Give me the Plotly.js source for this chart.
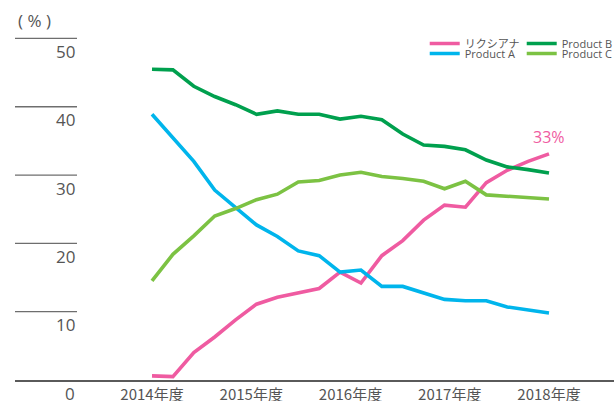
<!DOCTYPE html>
<html>
<head>
<meta charset="utf-8">
<script src="https://cdn.plot.ly/plotly-3.0.1.min.js"></script>
<style>html,body{margin:0;padding:0;background:#fff;}#chart{width:614px;height:401px;}</style>
</head>
<body>
<div id="chart"></div>
<script>
// quarterly points, 2014年度 Q1 .. 2018年度 Q4
var quarters = [0,1,2,3,4,5,6,7,8,9,10,11,12,13,14,15,16,17,18,19];
var lixiana  = [0.6, 0.5, 4.0, 6.3, 8.8, 11.1, 12.1, 12.7, 13.4, 15.8, 14.2, 18.2, 20.4, 23.4, 25.6, 25.3, 28.9, 30.7, 32.0, 33.1];
var productA = [38.9, 35.5, 32.0, 27.8, 25.3, 22.7, 21.0, 18.9, 18.2, 15.8, 16.1, 13.7, 13.7, 12.8, 11.8, 11.6, 11.6, 10.7, 10.3, 9.8];
var productB = [45.5, 45.4, 43.0, 41.5, 40.3, 38.9, 39.4, 38.9, 38.9, 38.2, 38.6, 38.1, 36.0, 34.4, 34.2, 33.7, 32.2, 31.2, 30.8, 30.3];
var productC = [14.5, 18.4, 21.1, 24.0, 25.1, 26.4, 27.2, 29.0, 29.2, 30.0, 30.4, 29.8, 29.5, 29.1, 28.0, 29.1, 27.1, 26.9, 26.6, 26.5];
var seriesNames = ['リクシアナ', 'Product B', 'Product A', 'Product C'];
var xTickVals = [0, 4.75, 9.5, 14.25, 19];
var xTickText = ['2014年度', '2015年度', '2016年度', '2017年度', '2018年度'];
var yTicks = [10, 20, 30, 40, 50];
var yTickLabels = ['0', '10', '20', '30', '40', '50'];
var yLabelVals = [0, 10, 20, 30, 40, 50];
var endLabel = '33%';

var colors = {pink: '#ef5ba1', blue: '#00b5ec', dgreen: '#00a04e', lgreen: '#7cc243'};
var lw = 3.6;
var font = "'Open Sans', 'Noto Sans CJK JP', sans-serif";

var traces = [
  {x: quarters, y: lixiana, name: seriesNames[0], mode: 'lines', line: {color: colors.pink, width: lw}, legend: 'legend'},
  {x: quarters, y: productB, name: seriesNames[1], mode: 'lines', line: {color: colors.dgreen, width: lw}, legend: 'legend'},
  {x: quarters, y: productA, name: seriesNames[2], mode: 'lines', line: {color: colors.blue, width: lw}, legend: 'legend2'},
  {x: quarters, y: productC, name: seriesNames[3], mode: 'lines', line: {color: colors.lgreen, width: lw}, legend: 'legend2'}
];

var shapes = yTicks.map(function(v){
  return {type: 'line', xref: 'paper', yref: 'y', x0: 0, x1: 62/599, y0: v, y1: v,
          line: {color: '#6e6e6e', width: 1.3}};
});

var annotations = yLabelVals.map(function(v, i){
  return {xref: 'paper', yref: 'y', x: 62/599, y: v, text: yTickLabels[i], showarrow: false,
          xanchor: 'right', yanchor: 'middle', yshift: -13,
          font: {family: font, size: 17, color: '#555'}};
});
annotations.push({xref: 'paper', yref: 'paper', x: 0, y: 1, xshift: 1, text: '( % )',
  showarrow: false, xanchor: 'left', yanchor: 'middle', font: {family: font, size: 17, color: '#555'}});
annotations.push({xref: 'x', yref: 'y', x: quarters[quarters.length-1], y: lixiana[lixiana.length-1],
  text: endLabel, showarrow: false, xanchor: 'center', yanchor: 'bottom', yshift: 4,
  font: {family: font, size: 16, color: colors.pink}});

var legendCommon = {orientation: 'h', xref: 'paper', yref: 'paper', xanchor: 'left', yanchor: 'top',
  entrywidth: 52, entrywidthmode: 'pixels', font: {family: font, size: 11, color: '#555'},
  bgcolor: 'rgba(0,0,0,0)', itemclick: false, tracegroupgap: 0};

var layout = {
  width: 614, height: 401,
  margin: {l: 15, r: 0, t: 20, b: 21, autoexpand: false},
  paper_bgcolor: '#fff', plot_bgcolor: '#fff',
  showlegend: true,
  legend: Object.assign({}, legendCommon, {x: 0.684, y: 1 - 9/360}),
  legend2: Object.assign({}, legendCommon, {x: 0.684, y: 1 - 19/360}),
  xaxis: {range: [-6.557, 22.111], tickvals: xTickVals, ticktext: xTickText, showgrid: false, zeroline: false,
          showline: true, linecolor: '#5a5a5a', linewidth: 1.5, ticks: '',
          tickfont: {family: "'Noto Sans CJK JP', sans-serif", size: 15, color: '#555'}, fixedrange: true},
  yaxis: {range: [0, 52.7], showgrid: false, zeroline: false, showline: false, showticklabels: false, fixedrange: true},
  shapes: shapes,
  annotations: annotations
};

Plotly.newPlot('chart', traces, layout, {displayModeBar: false, staticPlot: true});
</script>
</body>
</html>
